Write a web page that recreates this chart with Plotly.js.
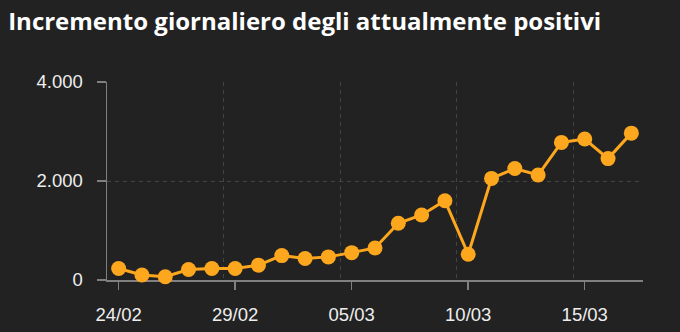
<!DOCTYPE html>
<html>
<head>
<meta charset="utf-8">
<script src="https://cdn.plot.ly/plotly-3.0.1.min.js"></script>
<style>html,body{margin:0;padding:0;background:#222222;}#chart{width:680px;height:332px;}</style>
</head>
<body>
<div id="chart"></div>
<script>
const dates = ['2020-02-24','2020-02-25','2020-02-26','2020-02-27','2020-02-28','2020-02-29',
  '2020-03-01','2020-03-02','2020-03-03','2020-03-04','2020-03-05','2020-03-06','2020-03-07',
  '2020-03-08','2020-03-09','2020-03-10','2020-03-11','2020-03-12','2020-03-13','2020-03-14',
  '2020-03-15','2020-03-16','2020-03-17'];
const increments = [233,100,67,213,233,233,300,493,433,467,553,647,1147,1313,1600,520,2053,2253,2120,2780,2847,2453,2967];
const titleText = 'Incremento giornaliero degli attualmente positivi';

const DAY = 86400000;
const ORANGE = '#FDA71E';
const data = [{
  x: dates, y: increments, type: 'scatter', mode: 'lines+markers',
  line: {color: ORANGE, width: 3},
  marker: {color: ORANGE, size: 15},
  cliponaxis: false, hoverinfo: 'skip'
}];
const layout = {
  width: 680, height: 332,
  paper_bgcolor: '#222222', plot_bgcolor: '#222222',
  separators: ',.',
  margin: {l: 107, r: 37, t: 82, b: 52},
  showlegend: false,
  font: {family: 'Liberation Sans, Arial, sans-serif', color: '#eeeeee', size: 18.5},
  title: {text: titleText, x: 0.012, xref: 'container', xanchor: 'left',
          y: 0.935, yref: 'container', yanchor: 'middle',
          font: {family: 'Open Sans, sans-serif', size: 24, color: '#ffffff', weight: 700}},
  xaxis: {
    type: 'date', range: ['2020-02-23 12:00', '2020-03-17 12:00'],
    tick0: '2020-02-24', dtick: 5 * DAY, tickformat: '%d/%m',
    showgrid: false, zeroline: false,
    showline: true, linecolor: '#808080', linewidth: 1.5,
    ticks: 'outside', ticklen: 8, tickcolor: '#808080', tickwidth: 1.5,
    ticklabelstandoff: 9, layer: 'below traces',
    minor: {tick0: '2020-02-28 12:00', dtick: 5 * DAY, showgrid: true,
            gridcolor: '#444444', griddash: '4px,4px', gridwidth: 1, ticks: ''}
  },
  yaxis: {
    range: [0, 4000], dtick: 2000, tickformat: ',d',
    showgrid: true, gridcolor: '#444444', griddash: '4px,4px', gridwidth: 1,
    zeroline: false, showline: true, linecolor: '#808080', linewidth: 1.5,
    ticks: 'outside', ticklen: 9, tickcolor: '#808080', tickwidth: 1.5,
    ticklabelstandoff: 10, layer: 'below traces'
  }
};
Plotly.newPlot('chart', data, layout, {displayModeBar: false, staticPlot: true});
</script>
</body>
</html>
